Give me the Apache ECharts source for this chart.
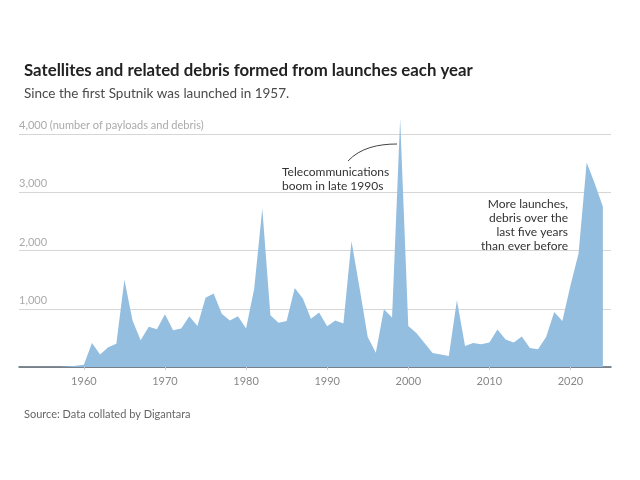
<!DOCTYPE html>
<html><head><meta charset="utf-8">
<script src="https://cdn.jsdelivr.net/npm/echarts@6/dist/echarts.min.js"></script>
<style>html,body{margin:0;padding:0;background:#fff}#c{width:640px;height:480px}</style>
</head><body><div id="c"></div>
<script>
const years = [1957,1958,1959,1960,1961,1962,1963,1964,1965,1966,1967,1968,1969,1970,1971,1972,1973,1974,1975,1976,1977,1978,1979,1980,1981,1982,1983,1984,1985,1986,1987,1988,1989,1990,1991,1992,1993,1994,1995,1996,1997,1998,1999,2000,2001,2002,2003,2004,2005,2006,2007,2008,2009,2010,2011,2012,2013,2014,2015,2016,2017,2018,2019,2020,2021,2022,2023,2024];
const counts = [2,8,20,40,410,215,340,400,1500,800,460,690,650,905,630,660,870,705,1190,1260,915,800,870,660,1345,2720,890,760,790,1355,1175,830,935,700,800,745,2160,1350,515,245,990,850,4260,705,585,410,240,215,190,1145,360,410,390,420,645,470,420,525,325,305,515,945,790,1400,1950,3510,3150,2750];
const xTicks = [1960,1970,1980,1990,2000,2010,2020];
const yTicks = [1000,2000,3000,4000];
const FONT = 'Lato, "Open Sans", sans-serif';
const chart = echarts.init(document.getElementById('c'), null, {renderer:'canvas'});
chart.setOption({
  animation:false,
  backgroundColor:'#fff',
  textStyle:{fontFamily:FONT},
  title:[
    {text:'Satellites and related debris formed from launches each year', left:19, top:57,
     textStyle:{fontFamily:FONT,fontSize:16.8,fontWeight:'bold',color:'#222'}},
    {text:'Since the first Sputnik was launched in 1957.', left:19, top:82,
     textStyle:{fontFamily:FONT,fontSize:13.5,fontWeight:'normal',color:'#4a4a4a'}},
    {text:'Source: Data collated by Digantara', left:19, top:404,
     textStyle:{fontFamily:FONT,fontSize:11,fontWeight:'normal',color:'#666'}}
  ],
  grid:{left:19,right:29,top:134,bottom:113},
  xAxis:{type:'value',min:1952,max:2025,
    axisLine:{show:true,lineStyle:{color:'#5a6570',width:1.5}},
    axisTick:{show:true,customValues:xTicks,length:3,lineStyle:{color:'#ccc'}},
    splitLine:{show:false},
    axisLabel:{customValues:xTicks,color:'#888',fontSize:11,margin:9,formatter:v=>String(v)}},
  yAxis:{type:'value',min:0,max:4000,interval:1000,
    axisLine:{show:false},axisTick:{show:false},
    splitLine:{show:true,lineStyle:{color:'#d6d6d6',width:1}},
    axisLabel:{inside:true,align:'left',verticalAlign:'bottom',margin:0,padding:[0,0,3,0],
      color:'#aaa',fontSize:11,
      formatter:v=>{ if(!yTicks.includes(v)) return ''; const s=v.toLocaleString('en-US'); return v===4000? s+' (number of payloads and debris)': s; }}},
  series:[{type:'line',data:years.map((y,i)=>[y,counts[i]]),symbol:'none',clip:false,
    lineStyle:{width:0},areaStyle:{color:'#94bedf',opacity:1}}],
  graphic:[
    {type:'text',x:282,y:165,style:{text:'Telecommunications\nboom in late 1990s',font:'12px '+FONT,fill:'#333',lineHeight:14}},
    {type:'bezierCurve',shape:{x1:348,y1:161,cpx1:360,cpy1:148,cpx2:378,cpy2:144,x2:397,y2:144},style:{stroke:'#444',lineWidth:1,fill:null}},
    {type:'text',x:568,y:197,style:{text:'More launches,\ndebris over the\nlast five years\nthan ever before',font:'12px '+FONT,fill:'#333',align:'right',lineHeight:14}}
  ]
});
</script></body></html>
